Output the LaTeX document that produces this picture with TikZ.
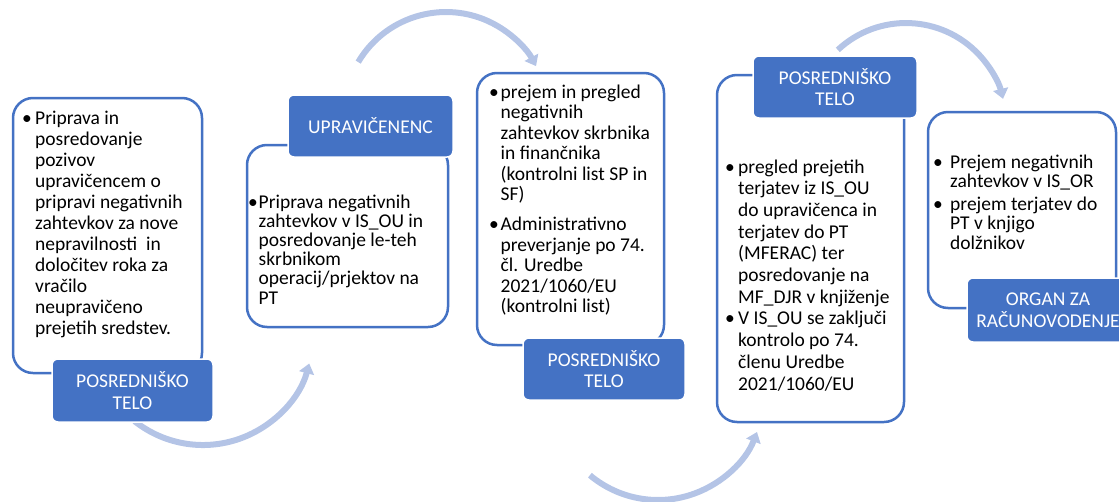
\documentclass[tikz,border=0pt]{standalone}
\usepackage{fontspec}
\setmainfont{Carlito}
\usetikzlibrary{arrows.meta}
\definecolor{accent}{HTML}{4472C4}
\definecolor{flow}{HTML}{B4C4E6}

% bullet paragraphs with a hanging indent; \nl breaks a line inside one bullet
\newlength\bhang
\newcommand\bul{\par\hangindent=\bhang\hangafter=1\noindent\hbox to \bhang{\textbullet\hfil}}
\newcommand\nl{\newline}
\newcommand\blist[4]{\begin{minipage}[t]{#1}\setlength\bhang{#2}\fontsize{19.5pt}{#3}\selectfont\raggedright #4\end{minipage}}

\tikzset{
  x=1pt, y=-1pt,
  box/.style={draw=accent, line width=2.5pt, rounded corners=20pt, fill=white, inner sep=0pt},
  lab/.style={fill=accent, draw=white, line width=1.5pt, rounded corners=6pt, text=white,
              align=center, inner sep=0pt, font=\fontsize{19.5pt}{21.5pt}\selectfont},
  txt/.style={inner sep=0pt, anchor=base west},
  arr/.style={draw=flow, line width=6pt, -{Triangle[width=15pt,length=10pt]}}
}

\begin{document}
\begin{tikzpicture}
\useasboundingbox (0,0) rectangle (1119,501);

% curved flow arrows between the steps
\coordinate (f1) at (134.5,421.1);
\coordinate (f2) at (358.2,62.1);
\coordinate (f3) at (589.9,475.2);
\coordinate (f4) at (837.8,49.9);
\draw[arr] (f1) arc[start angle=128.5, end angle=15, radius=110];
\draw[arr] (f2) arc[start angle=-149.4, end angle=-28, radius=102];
\draw[arr] (f3) arc[start angle=130, end angle=21, radius=106];
\draw[arr] (f4) arc[start angle=-133, end angle=-14, radius=100];

% step boxes
\node[box, minimum width=189pt, minimum height=275pt] (b1) at (107.5,235.5) {};
\node[box, minimum width=201pt, minimum height=182pt] (b2) at (347.5,236) {};
\node[box, minimum width=187pt, minimum height=272pt] (b3) at (570.5,209) {};
\node[box, minimum width=187pt, minimum height=347pt] (b4) at (810.5,248.5) {};
\node[box, minimum width=188pt, minimum height=196pt] (b5) at (1022,210) {};

% step contents
\node[txt] (t1) at (22,124) {\blist{185pt}{13pt}{21.07pt}{\bul Priprava in\nl
posredovanje\nl pozivov\nl upravičencem o\nl pripravi negativnih\nl zahtevkov za nove\nl
nepravilnosti\ \ in\nl določitev roka za\nl vračilo\nl neupravičeno\nl prejetih sredstev.}};

\node[txt] (t2) at (248,208) {\blist{200pt}{10.5pt}{19.2pt}{\bul Priprava negativnih\nl
zahtevkov v IS\_OU in\nl posredovanje le-teh\nl skrbnikom\nl operacij/prjektov na\nl PT}};

\node[txt] (t3) at (489,98) {\blist{185pt}{11.5pt}{20.5pt}{\bul prejem in pregled\nl
negativnih\nl zahtevkov skrbnika\nl in finančnika\nl (kontrolni list SP in\nl SF)\par\vspace{9.5pt}
\bul Administrativno\nl preverjanje po 74.\nl čl. Uredbe\nl 2021/1060/EU\nl (kontrolni list)}};

\node[txt] (t4) at (725,173) {\blist{185pt}{13pt}{21.7pt}{\bul pregled prejetih\nl
terjatev iz IS\_OU\nl do upravičenca in\nl terjatev do PT\nl (MFERAC) ter\nl posredovanje na\nl
MF\_DJR v knjiženje\par
\bul V IS\_OU se zaključi\nl kontrolo po 74.\nl členu Uredbe\nl 2021/1060/EU}};

\node[txt] (t5) at (933,168) {\blist{180pt}{17pt}{19.5pt}{\bul Prejem negativnih\nl
zahtevkov v IS\_OR\par\vspace{3pt}
\bul prejem terjatev do\nl PT v knjigo\nl dolžnikov}};

% role labels
\node[lab, minimum width=161pt, minimum height=63pt] (l1) at (132.5,390.5) {POSREDNIŠKO\\TELO};
\node[lab, minimum width=165pt, minimum height=62pt] (l2) at (370.5,126) {UPRAVIČENENC};
\node[lab, minimum width=162pt, minimum height=62pt] (l3) at (604,369) {POSREDNIŠKO\\TELO};
\node[lab, minimum width=164pt, minimum height=62pt] (l4) at (835,87) {POSREDNIŠKO\\TELO};
\node[lab, minimum width=162pt, minimum height=64pt] (l5) at (1048,310) {ORGAN ZA\\RAČUNOVODENJE};
\end{tikzpicture}
\end{document}
